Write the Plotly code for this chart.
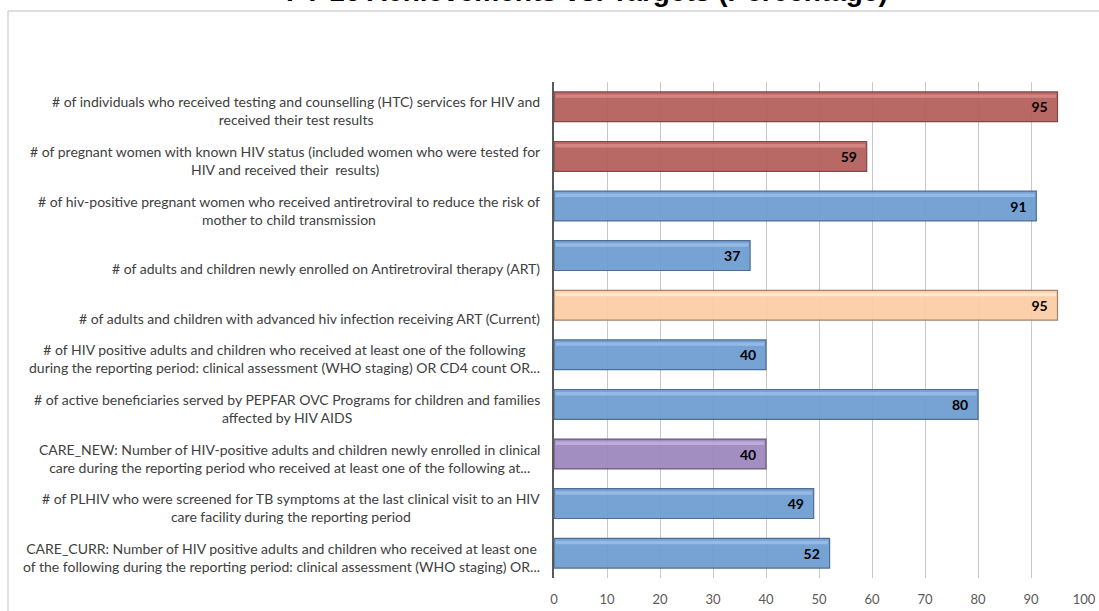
import plotly.graph_objects as go

categories = [
    "# of individuals who received testing and counselling (HTC) services for HIV and<br>received their test results",
    "# of pregnant women with known HIV status (included women who were tested for<br>HIV and received their  results)",
    "# of hiv-positive pregnant women who received antiretroviral to reduce the risk of<br>mother to child transmission",
    "# of adults and children newly enrolled on Antiretroviral therapy (ART)",
    "# of adults and children with advanced hiv infection receiving ART (Current)",
    "# of HIV positive adults and children who received at least one of the following<br>during the reporting period: clinical assessment (WHO staging) OR CD4 count OR...",
    "# of active beneficiaries served by PEPFAR OVC Programs for children and families<br>affected by HIV AIDS",
    "CARE_NEW: Number of HIV-positive adults and children newly enrolled in clinical<br>care during the reporting period who received at least one of the following at...",
    "# of PLHIV who were screened for TB symptoms at the last clinical visit to an HIV<br>care facility during the reporting period",
    "CARE_CURR: Number of HIV positive adults and children who received at least one<br>of the following during the reporting period: clinical assessment (WHO staging) OR...",
]
values = [95, 59, 91, 37, 95, 40, 80, 40, 49, 52]
groups = ["red", "red", "blue", "blue", "peach", "blue", "blue", "purple", "blue", "blue"]

title_text = "FY 16 Achievements vs. Targets (Percentage)"
x_ticks = [0, 10, 20, 30, 40, 50, 60, 70, 80, 90, 100]

fill = {"red": "#B35E5B", "blue": "#6C9BD1", "peach": "#FBCDA5", "purple": "#9D86BD"}
light = {"red": "#D98C89", "blue": "#9DC0EA", "peach": "#FFEBD6", "purple": "#C5B3DD"}
edge = {"red": "#7A3B39", "blue": "#41648E", "peach": "#9C7A5C", "purple": "#5F4D78"}

ids = list(range(len(categories)))
pad = "\u00a0\u00a0"

fig = go.Figure()
fig.add_trace(go.Bar(
    y=ids, x=values, orientation="h", width=0.6,
    marker=dict(color=[fill[g] for g in groups],
                line=dict(color=[edge[g] for g in groups], width=1.2), opacity=0.93),
    text=[str(v) + pad for v in values], textposition="inside", insidetextanchor="end",
    textfont=dict(family="Lato, Arial", size=14, color="#000000", weight="bold"),
    cliponaxis=False, hoverinfo="x+y", showlegend=False,
))
# highlight strip near the top of each bar
fig.add_trace(go.Bar(
    y=ids, x=[v - 0.6 for v in values], orientation="h", width=0.07, offset=-0.25, base=0.3,
    marker=dict(color=[light[g] for g in groups], line=dict(width=0), opacity=0.8),
    hoverinfo="skip", showlegend=False,
))

annotations = []
for i, c in enumerate(categories):
    two = "<br>" in c
    annotations.append(dict(
        x=0, xref="paper", y=i, yref="y", xanchor="right", yanchor="middle",
        xshift=-12, yshift=(-4 if two else -13), align="center", showarrow=False,
        text=c, font=dict(family="Lato, Calibri, Arial", size=14, color="#404040"),
    ))
annotations.append(dict(
    x=0.0623, xref="paper", y=1.168, yref="paper", xanchor="center", yanchor="middle",
    yshift=7, showarrow=False, text="<b>" + title_text + "</b>",
    font=dict(family="Arial, Liberation Sans", size=28, color="#000000"),
))

fig.update_layout(
    width=1099, height=611,
    margin=dict(l=554, r=15, t=82, b=33),
    paper_bgcolor="white", plot_bgcolor="white",
    barmode="overlay", bargap=0.4,
    annotations=annotations,
    shapes=[dict(type="rect", xref="paper", yref="paper", xsizemode="pixel", ysizemode="pixel",
                 xanchor=0, yanchor=1, x0=-546, x1=700, y0=-700, y1=71,
                 line=dict(color="#BFBFBF", width=1), fillcolor="rgba(0,0,0,0)", layer="below")],
    xaxis=dict(range=[0, 100], tickvals=x_ticks, ticktext=[str(t) for t in x_ticks],
               showgrid=True, gridcolor="#C8C8C8", gridwidth=1, zeroline=False,
               showline=False, ticks="outside", ticklen=9, tickcolor="rgba(0,0,0,0)",
               automargin=False,
               tickfont=dict(family="Lato, Calibri, Arial", size=13, color="#595959")),
    yaxis=dict(range=[len(categories) - 0.5, -0.5], showticklabels=False, ticks="",
               automargin=False,
               showgrid=False, zeroline=False, showline=True, linecolor="#595959", linewidth=2),
)

fig.write_html("out.html")
